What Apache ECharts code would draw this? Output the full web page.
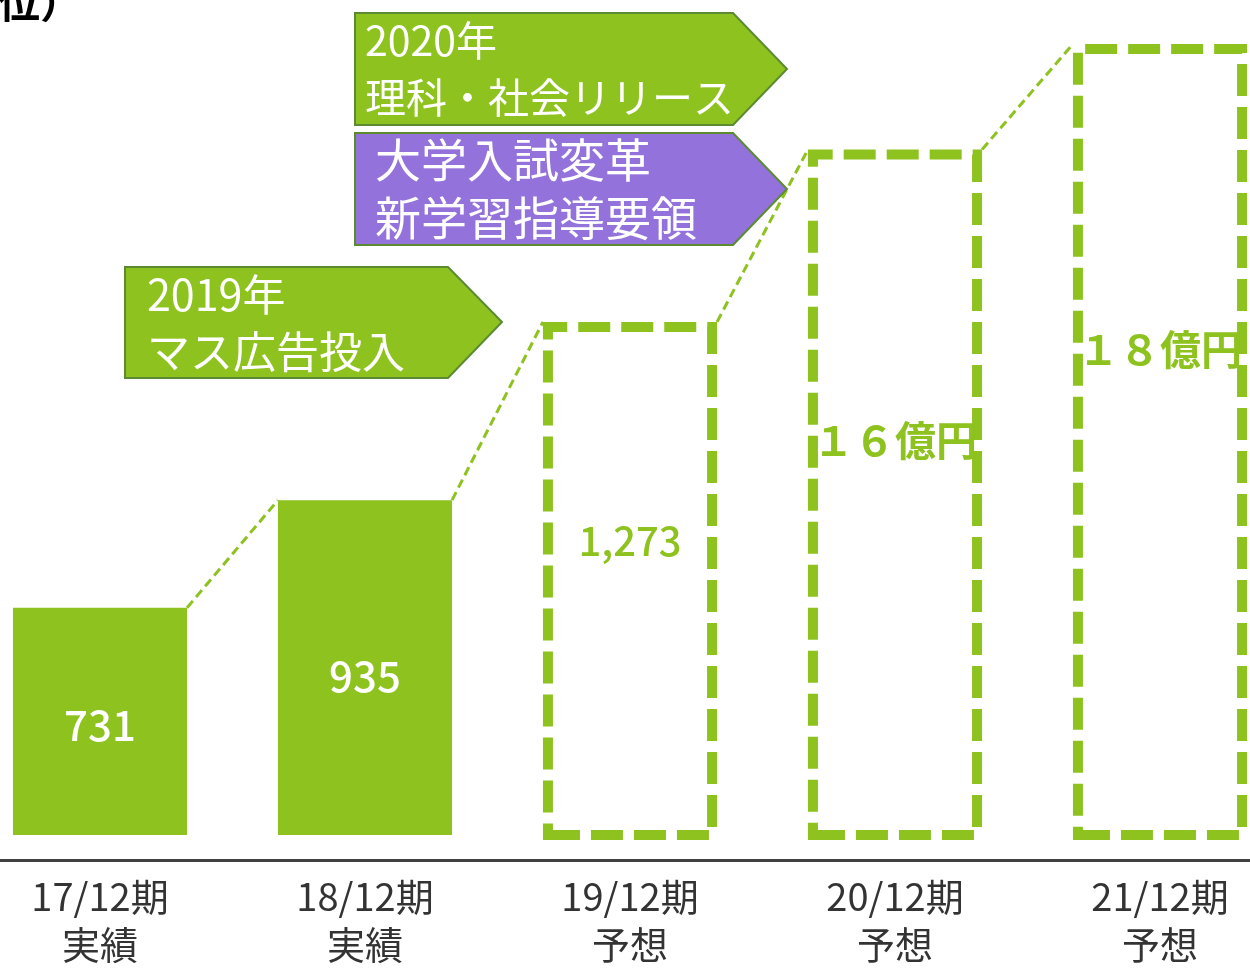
<!DOCTYPE html>
<html>
<head>
<meta charset="utf-8">
<script src="https://cdn.jsdelivr.net/npm/echarts@6/dist/echarts.min.js"></script>
<style>
html,body{margin:0;padding:0;background:#fff;}
#chart{width:1250px;height:971px;}
</style>
</head>
<body>
<div id="chart"></div>
<script>
// ---- data ----
const categories = ['17/12期\n実績', '18/12期\n実績', '19/12期\n予想', '20/12期\n予想', '21/12期\n予想'];
const values = [731, 935, 1273, 1600, 1800];
const valueLabels = ['731', '935', '1,273', '１６億円', '１８億円'];
const isForecast = [false, false, true, true, true];
const unitText = '（百万円単位）';
const noteLines2019 = ['2019年', 'マス広告投入'];
const noteLines2020 = ['2020年', '理科・社会リリース'];
const noteLinesReform = ['大学入試変革', '新学習指導要領'];

// ---- styling ----
const GREEN = '#8DC21F';
const PURPLE = '#9372DB';
const EDGE = '#5B8A32';
const FONT = '"Noto Sans CJK JP", "Noto Sans", sans-serif';
const labelOffsets = [[0, 4], [0, 8], [0, -40], [0, -54], [0, -93]];
const BAR_RATIO = 0.657;

const chart = echarts.init(document.getElementById('chart'));

const barData = values.map((v, i) => {
  const item = {
    value: v,
    label: {
      show: true,
      position: 'inside',
      offset: labelOffsets[i],
      formatter: valueLabels[i],
      color: isForecast[i] ? GREEN : '#fff',
      fontSize: i === 2 ? 40 : (i >= 3 ? 41 : 42),
      fontWeight: isForecast[i] && i >= 3 ? 'bold' : 500,
      fontFamily: FONT
    }
  };
  if (isForecast[i]) {
    item.itemStyle = {
      color: 'rgba(255,255,255,0)',
      borderColor: GREEN,
      borderWidth: 10,
      borderType: [32, 11]
    };
  } else {
    item.itemStyle = { color: GREEN };
  }
  return item;
});

const linkData = [];
for (let i = 0; i < values.length - 1; i++) linkData.push([i, values[i], values[i + 1]]);

function noteGraphic(pts, fill, lines, x, y0, lh, fs) {
  const els = [{
    type: 'polygon',
    shape: { points: pts },
    style: { fill: fill, stroke: EDGE, lineWidth: 2 },
    z: 10
  }];
  lines.forEach((t, k) => {
    els.push({
      type: 'text',
      x: x, y: y0 + k * lh,
      style: { text: t, fill: '#fff', font: fs + 'px ' + FONT, textVerticalAlign: 'middle', textAlign: 'left' },
      z: 11
    });
  });
  return els;
}

const option = {
  backgroundColor: '#fff',
  animation: false,
  grid: { left: -32.5, right: -42.5, top: 44, bottom: 136, containLabel: false, outerBoundsMode: 'none' },
  xAxis: {
    type: 'category',
    data: categories,
    offset: 25,
    axisLine: { show: true, lineStyle: { color: '#404040', width: 3 } },
    axisTick: { show: false },
    axisLabel: { color: '#333', fontSize: 38, lineHeight: 48, fontFamily: FONT, margin: 13, interval: 0 }
  },
  yAxis: {
    type: 'value',
    min: 300,
    max: 1800,
    show: false,
    splitLine: { show: false }
  },
  series: [
    {
      type: 'custom',
      data: linkData,
      z: 1,
      renderItem: function (params, api) {
        const i = api.value(0);
        const p1 = api.coord([i, api.value(1)]);
        const p2 = api.coord([i + 1, api.value(2)]);
        const half = api.size([1, 0])[0] * BAR_RATIO / 2;
        return {
          type: 'line',
          shape: { x1: p1[0] + half, y1: p1[1], x2: p2[0] - half, y2: p2[1] },
          style: { stroke: GREEN, lineWidth: 3, lineDash: [9, 5] }
        };
      }
    },
    {
      type: 'bar',
      data: barData,
      barWidth: (BAR_RATIO * 100) + '%',
      z: 2
    }
  ],
  graphic: [
    {
      type: 'text', x: 82, y: 23,
      style: { text: unitText, fill: '#000', font: 'bold 42px ' + FONT, textAlign: 'right', textVerticalAlign: 'bottom' }
    }
  ].concat(
    noteGraphic([[125, 267], [448, 267], [502, 322], [448, 378], [125, 378]], GREEN, noteLines2019, 147, 295, 57, 43),
    noteGraphic([[355, 13], [733, 13], [787, 69], [733, 125], [355, 125]], GREEN, noteLines2020, 365, 40, 57, 41),
    noteGraphic([[355, 133], [733, 133], [787, 189], [733, 245], [355, 245]], PURPLE, noteLinesReform, 375, 160, 58, 46)
  )
};

chart.setOption(option);
</script>
</body>
</html>
